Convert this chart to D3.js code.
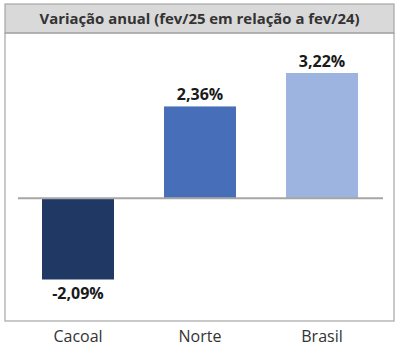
<!DOCTYPE html>
<html><head><meta charset="utf-8">
<script src="https://cdn.jsdelivr.net/npm/d3@7"></script>
<style>body{margin:0;background:#fff}</style>
</head><body>
<svg id="c" width="398" height="361"></svg>
<script>
const title = "Variação anual (fev/25 em relação a fev/24)";
const categories = ["Cacoal", "Norte", "Brasil"];
const values = [-2.09, 2.36, 3.22];
const valueLabels = ["-2,09%", "2,36%", "3,22%"];
const colors = ["#1f3864", "#476eb9", "#9db4e0"];

const svg = d3.select("#c");
const box = {x:5, y:4, w:389, h:317};
const titleH = 29;
const font = "'Open Sans', 'Liberation Sans', sans-serif";

// title bar
svg.append("rect").attr("x", box.x).attr("y", box.y).attr("width", box.w).attr("height", titleH)
  .attr("fill", "#d9d9d9").attr("stroke", "#a6a6a6").attr("stroke-width", 1.2);
svg.append("text").attr("x", box.x + box.w/2).attr("y", box.y + titleH/2 + 5)
  .attr("text-anchor", "middle").attr("font-family", font).attr("font-weight", "bold")
  .attr("font-size", 14.9).attr("fill", "#333").text(title);
// chart box
svg.append("rect").attr("x", box.x).attr("y", box.y + titleH).attr("width", box.w).attr("height", box.h - titleH)
  .attr("fill", "none").attr("stroke", "#a6a6a6").attr("stroke-width", 1.2);

const x = d3.scaleBand().domain(categories).range([17, 383]).paddingInner(0.41).paddingOuter(0.205);
const y = d3.scaleLinear().domain([-2.09, 3.22]).range([279.5, 73]);

svg.selectAll("rect.bar").data(values).join("rect").attr("class", "bar")
  .attr("x", (d, i) => x(categories[i]))
  .attr("width", x.bandwidth())
  .attr("y", d => y(Math.max(0, d)))
  .attr("height", d => Math.abs(y(d) - y(0)))
  .attr("fill", (d, i) => colors[i]);

svg.append("line").attr("x1", 18).attr("x2", 383).attr("y1", y(0)).attr("y2", y(0))
  .attr("stroke", "#a6a6a6").attr("stroke-width", 2);

svg.selectAll("text.val").data(values).join("text").attr("class", "val")
  .attr("x", (d, i) => x(categories[i]) + x.bandwidth()/2)
  .attr("y", d => d >= 0 ? y(d) - 6 : y(d) + 19.5)
  .attr("text-anchor", "middle").attr("font-family", font).attr("font-weight", "bold")
  .attr("font-size", 16).attr("fill", "#1a1a1a")
  .text((d, i) => valueLabels[i]);

const xAxis = svg.append("g").attr("transform", "translate(0,321)")
  .call(d3.axisBottom(x).tickSize(0).tickPadding(10));
xAxis.select(".domain").remove();
xAxis.selectAll("text").attr("font-family", font).attr("font-size", 16).attr("fill", "#333");
</script>
</body></html>
